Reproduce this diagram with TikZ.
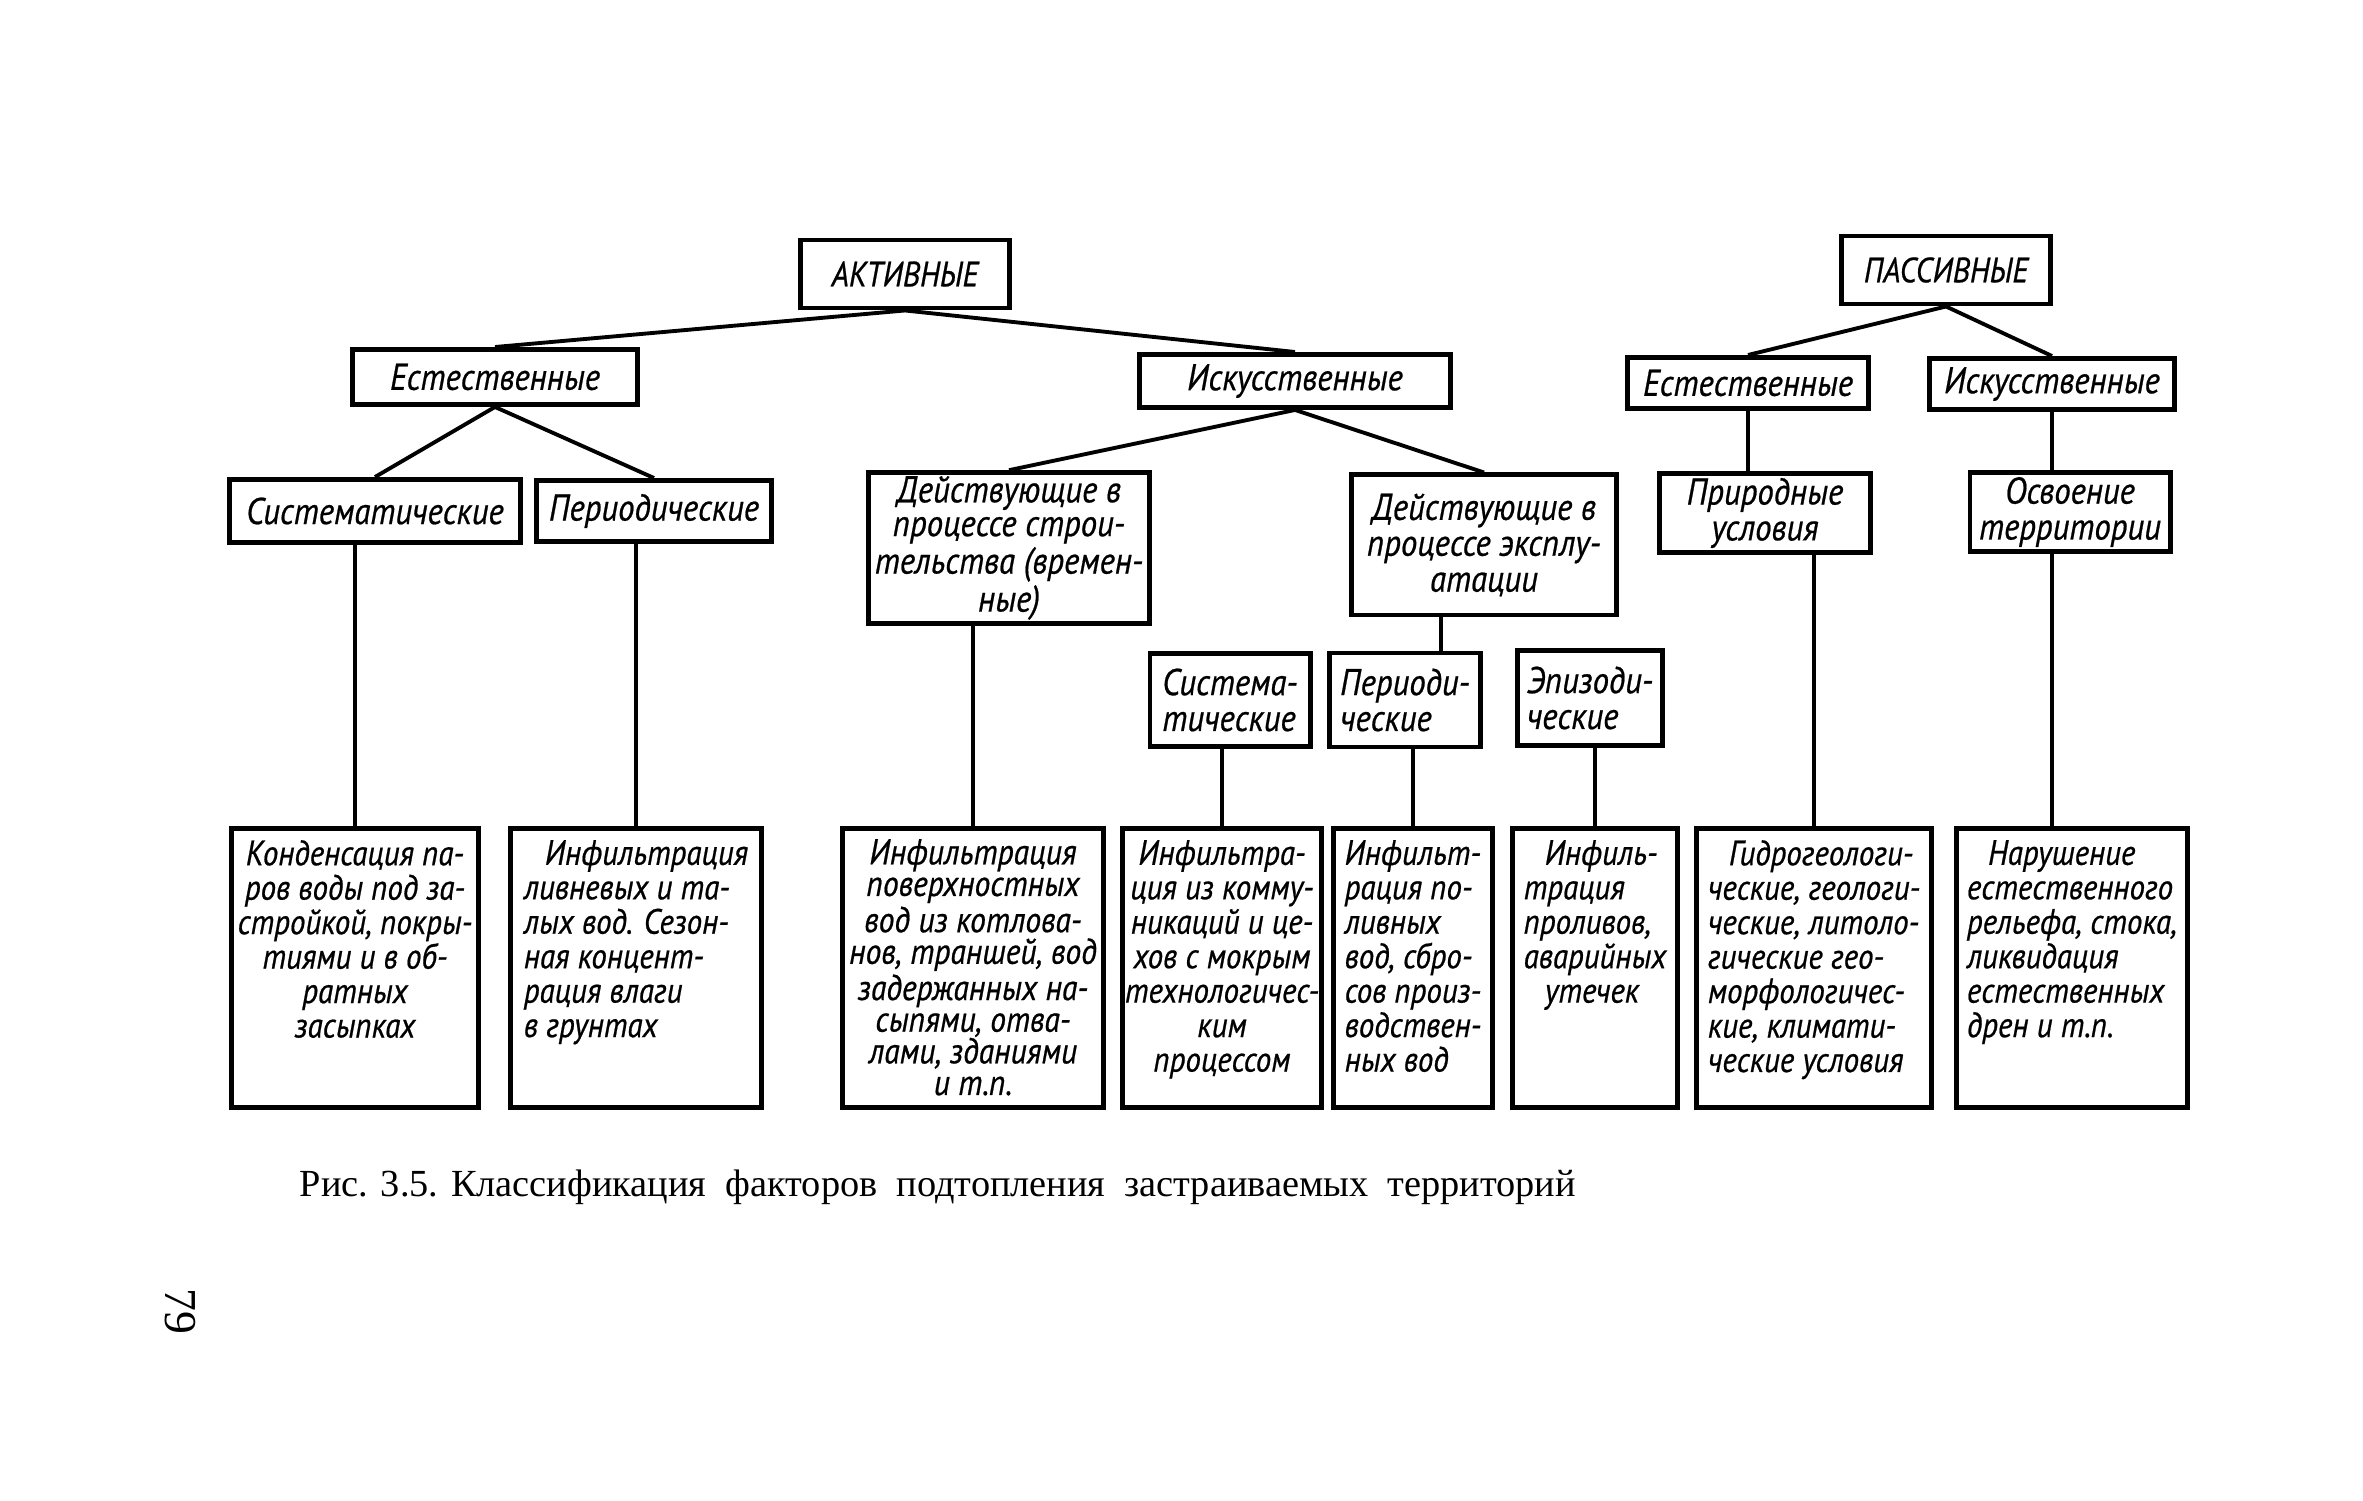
\documentclass[tikz,border=0pt]{standalone}
\usepackage{fontspec}
\setmainfont{Liberation Serif}
\newfontfamily\drf[FakeStretch=0.88,FakeBold=0.6]{PT Sans}
\begin{document}
\begin{tikzpicture}[x=0.01cm,y=-0.01cm,
  box/.style={draw, line width=1.4pt, inner sep=1pt, align=center,
    font=\drf\itshape\fontsize{10.6}{10.2}\selectfont},
  capbox/.style={box, font=\drf\itshape\fontsize{10}{10}\selectfont},
  bot/.style={draw, line width=1.4pt, minimum height=2.78cm},
  btxt/.style={inner sep=0pt, anchor=north, font=\drf\itshape\fontsize{10}{9.8}\selectfont},
  con/.style={line width=1.1pt}]
\fill[white] (0,0) rectangle (2363,1501);
\useasboundingbox (0,0) rectangle (2363,1501);

% top level
\node[capbox, minimum width=2.08cm, minimum height=0.68cm] (akt) at (905,274) {АКТИВНЫЕ};
\node[capbox, minimum width=2.09cm, minimum height=0.68cm] (pas) at (1946,270) {ПАССИВНЫЕ};

% level 2
\node[box, minimum width=2.84cm, minimum height=0.55cm] (estA) at (495,377) {Естественные};
\node[box, minimum width=3.11cm, minimum height=0.53cm] (iskA) at (1295,381) {Искусственные};
\node[box, minimum width=2.40cm, minimum height=0.51cm] (estP) at (1748,383) {Естественные};
\node[box, minimum width=2.45cm, minimum height=0.51cm] (iskP) at (2052,384) {Искусственные};

% level 3
\node[box, minimum width=2.91cm, minimum height=0.63cm] (sistA) at (375,511) {Систематические};
\node[box, minimum width=2.35cm, minimum height=0.61cm] (perA) at (654,511) {Периодические};
\node[box, minimum width=2.80cm, minimum height=1.38cm,
  font=\drf\itshape\fontsize{10.6}{9.6}\selectfont] (stroi) at (1009,548)
  {Действующие в\\процессе строи-\\тельства (времен-\\ные)};
\node[box, minimum width=2.64cm, minimum height=1.40cm] (eksp) at (1484,545)
  {Действующие в\\процессе эксплу-\\атации};
\node[box, minimum width=2.10cm, minimum height=0.79cm] (prir) at (1765,513) {Природные\\условия};
\node[box, minimum width=2.00cm, minimum height=0.79cm] (osv) at (2070,512) {Освоение\\территории};

% level 4 (exploitation)
\node[box, align=left, minimum width=1.60cm, minimum height=0.93cm] (sistE) at (1230,700) {Система-\\тические};
\node[box, align=left, minimum width=1.51cm, minimum height=0.94cm] (perE) at (1405,700) {Периоди-\\ческие};
\node[box, align=left, minimum width=1.45cm, minimum height=0.95cm] (epiE) at (1590,698) {Эпизоди-\\ческие};

% bottom boxes
\node[bot, minimum width=2.46cm] (b1) at (355,968) {};
\node[bot, minimum width=2.50cm] (b2) at (636,968) {};
\node[bot, minimum width=2.61cm] (b3) at (973,968) {};
\node[bot, minimum width=1.99cm] (b4) at (1222,968) {};
\node[bot, minimum width=1.59cm] (b5) at (1413,968) {};
\node[bot, minimum width=1.65cm] (b6) at (1595,968) {};
\node[bot, minimum width=2.35cm] (b7) at (1814,968) {};
\node[bot, minimum width=2.30cm] (b8) at (2072,968) {};

\node[btxt, align=center] (t1) at ([yshift=-0.13cm]b1.north)
  {Конденсация па-\\ров воды под за-\\стройкой, покры-\\тиями и в об-\\ратных\\засыпках};
\node[btxt, align=left] (t2) at ([yshift=-0.13cm]b2.north)
  {\hspace*{0.6em}Инфильтрация\\ливневых и та-\\лых вод. Сезон-\\ная концент-\\рация влаги\\в грунтах};
\node[btxt, align=center, font=\drf\itshape\fontsize{10.2}{9.0}\selectfont] (t3) at ([yshift=-0.12cm]b3.north)
  {Инфильтрация\\поверхностных\\вод из котлова-\\нов, траншей, вод\\задержанных на-\\сыпями, отва-\\лами, зданиями\\и т.п.};
\node[btxt, align=center] (t4) at ([yshift=-0.13cm]b4.north)
  {Инфильтра-\\ция из комму-\\никаций и це-\\хов с мокрым\\технологичес-\\ким\\процессом};
\node[btxt, align=left] (t5) at ([yshift=-0.13cm]b5.north)
  {Инфильт-\\рация по-\\ливных\\вод, сбро-\\сов произ-\\водствен-\\ных вод};
\node[btxt, align=left] (t6) at ([yshift=-0.13cm]b6.north)
  {\hspace*{0.6em}Инфиль-\\трация\\проливов,\\аварийных\\\hspace*{0.6em}утечек};
\node[btxt, align=left] (t7) at ([yshift=-0.13cm]b7.north)
  {\hspace*{0.6em}Гидрогеологи-\\ческие, геологи-\\ческие, литоло-\\гические гео-\\морфологичес-\\кие, климати-\\ческие условия};
\node[btxt, align=left] (t8) at ([yshift=-0.13cm]b8.north)
  {\hspace*{0.6em}Нарушение\\естественного\\рельефа, стока,\\ликвидация\\естественных\\дрен и т.п.};

% connectors
\draw[con] (akt.south) -- (estA.north);
\draw[con] (akt.south) -- (iskA.north);
\draw[con] (estA.south) -- (sistA.north);
\draw[con] (estA.south) -- (perA.north);
\draw[con] (iskA.south) -- (stroi.north);
\draw[con] (iskA.south) -- (eksp.north);
\draw[con] (pas.south) -- (estP.north);
\draw[con] (pas.south) -- (iskP.north);
\draw[con] (estP.south) -- (estP.south |- prir.north);
\draw[con] (iskP.south) -- (iskP.south |- osv.north);
\draw[con] (iskP.south |- osv.south) -- (iskP.south |- b8.north);
\draw[con] (b7.north |- prir.south) -- (b7.north);
\draw[con] (b1.north |- sistA.south) -- (b1.north);
\draw[con] (b2.north |- perA.south) -- (b2.north);
\draw[con] (b3.north |- stroi.south) -- (b3.north);
\draw[con] (b4.north |- sistE.south) -- (b4.north);
\draw[con] (b5.north |- perE.south) -- (b5.north);
\draw[con] (b6.north |- epiE.south) -- (b6.north);
\coordinate (ek) at (1441,0);
\draw[con] (ek |- eksp.south) -- (ek |- perE.north);

% caption and page number
\node[anchor=base west, inner sep=0pt, font=\fontsize{10.9}{12}\selectfont] (cap) at (299,1196)
  {Рис. 3.5. Классификация\ \ факторов\ \ подтопления\ \ застраиваемых\ \ территорий};
\node[rotate=-90, inner sep=0pt, font=\fontsize{13}{13}\selectfont] (pg) at (180,1311) {79};
\end{tikzpicture}
\end{document}
